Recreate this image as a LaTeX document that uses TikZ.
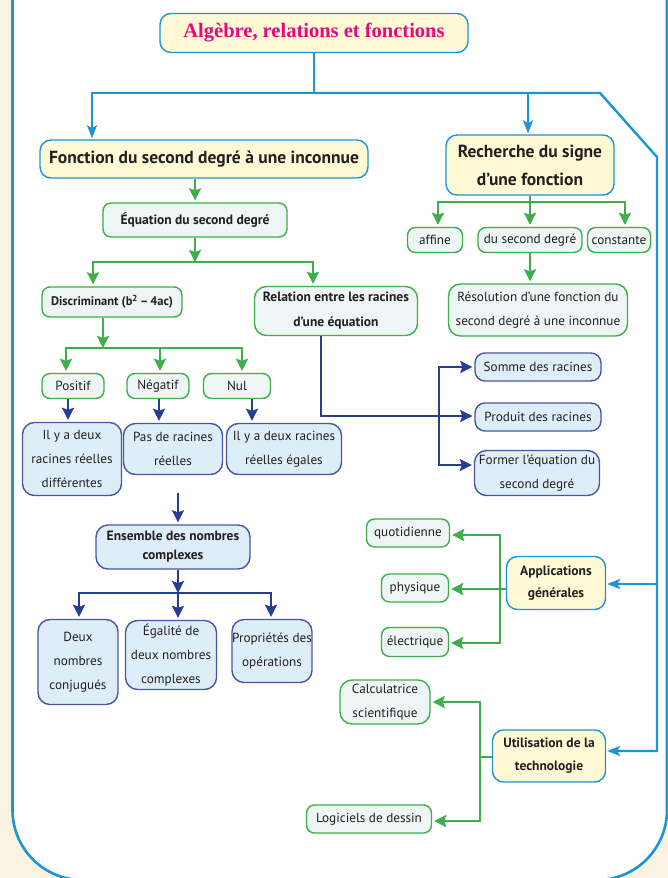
\documentclass[tikz,border=0pt]{standalone}
\usepackage{fontspec}
\setmainfont{PT Sans}
\newfontfamily\titlefam{Liberation Serif}
\usetikzlibrary{arrows.meta}
\definecolor{cream}{HTML}{FBF3E2}
\definecolor{cyanc}{HTML}{1B95D3}
\definecolor{greenc}{HTML}{3DAE4A}
\definecolor{navyc}{HTML}{243E90}
\definecolor{navyb}{HTML}{4A56A0}
\definecolor{yelfill}{HTML}{FFFAD5}
\definecolor{grnfill}{HTML}{EEF6F5}
\definecolor{blufill}{HTML}{DDEEF9}
\definecolor{txt}{HTML}{231F20}
\definecolor{magen}{HTML}{E4097E}
\begin{document}
\begin{tikzpicture}[x=1pt,y=-1pt,
  wh/.style 2 args={minimum width=#1pt, minimum height=#2pt},
  box/.style={inner sep=0pt, align=center, text=txt, line width=1.4pt},
  yel/.style={box, fill=yelfill, draw=cyanc, rounded corners=11pt},
  grn/.style={box, fill=grnfill, draw=greenc, rounded corners=8pt},
  blu/.style={box, fill=blufill, draw=navyb, rounded corners=12pt},
  fbig/.style={font=\bfseries\fontsize{17.5}{28}\selectfont},
  fmid/.style={font=\bfseries\fontsize{13.5}{25}\selectfont},
  freg/.style={font=\fontsize{13.2}{24}\selectfont},
  cy/.style={draw=cyanc, line width=2.4pt},
  cyarr/.style={cy, -{Stealth[length=13pt,width=10pt,inset=3pt]}, shorten >=1pt},
  gr/.style={draw=greenc, line width=2.4pt},
  grarr/.style={gr, -{Stealth[length=12pt,width=12pt,inset=2pt]}, shorten >=2pt},
  nv/.style={draw=navyc, line width=2.2pt},
  nvarr/.style={nv, -{Stealth[length=12pt,width=12pt,inset=2pt]}, shorten >=2pt},
]
\useasboundingbox (0,0) rectangle (668,878);
\clip (0,0) rectangle (668,878);
\fill[cream] (0,0) rectangle (668,878);
\draw[cy, line width=2.6pt, fill=white, rounded corners=70pt] (12.5,-40) -- (12.5,880) -- (667,880) -- (667,-40);

% nodes
\node[yel, wh={308}{39}, font=\titlefam\bfseries\fontsize{20.5}{24}\selectfont, text=magen] (title) at (314,33) {Algèbre, relations et fonctions};
\node[yel, wh={328}{38}, fbig] (fonction) at (204,159) {Fonction du second degré à une inconnue};
\node[yel, wh={168}{60}, fbig] (recherche) at (530,165) {Recherche du signe\\d’une fonction};
\node[grn, wh={184}{34}, fmid] (equation) at (195,220) {Équation du second degré};
\node[grn, wh={140}{30}, font=\bfseries\fontsize{12.5}{24}\selectfont] (discr) at (112,302) {Discriminant (b\textsuperscript{2}\,–\,4ac)};
\node[grn, wh={163}{49}, fmid, rounded corners=12pt] (relation) at (336,311) {Relation entre les racines\\d’une équation};
\node[grn, wh={62}{25}, freg] (positif) at (73,386) {Positif};
\node[grn, wh={62}{25}, freg] (negatif) at (158,386) {Négatif};
\node[grn, wh={67}{25}, freg] (nul) at (237,386) {Nul};
\node[blu, wh={99}{73}, freg] (r1) at (72,459) {Il y a deux\\racines réelles\\différentes};
\node[blu, wh={99}{51}, freg] (r2) at (173,449) {Pas de racines\\réelles};
\node[blu, wh={115}{51}, freg] (r3) at (284,449) {Il y a deux racines\\réelles égales};
\node[blu, wh={154}{44}, font=\bfseries\fontsize{13.5}{19}\selectfont] (ensemble) at (173,547) {Ensemble des nombres\\complexes};
\node[blu, wh={80}{85}, freg] (conj) at (78,662) {Deux\\nombres\\conjugués};
\node[blu, wh={91}{69}, freg] (egal) at (171,655) {Égalité de\\deux nombres\\complexes};
\node[blu, wh={80}{63}, freg] (prop) at (272,651) {Propriétés des\\opérations};
\node[grn, wh={55}{25}, freg] (affine) at (435,240) {affine};
\node[grn, wh={104}{25}, freg] (dsd) at (530,240) {du second degré};
\node[grn, wh={63}{25}, freg] (const) at (619,240) {constante};
\node[grn, wh={179}{52}, freg, rounded corners=12pt] (resol) at (538,310) {Résolution d’une fonction du\\second degré à une inconnue};
\node[blu, wh={126}{28}, freg, rounded corners=10pt] (somme) at (538,367) {Somme des racines};
\node[blu, wh={126}{28}, freg, rounded corners=10pt] (produit) at (538,417) {Produit des racines};
\node[blu, wh={125}{45}, freg] (former) at (537,473) {Former l’équation du\\second degré};
\node[grn, wh={83}{28}, freg] (quot) at (408,533) {quotidienne};
\node[grn, wh={67}{28}, freg] (phys) at (415,588) {physique};
\node[grn, wh={67}{29}, freg] (elec) at (415,642) {électrique};
\node[yel, wh={99}{53}, font=\bfseries\fontsize{13.5}{22}\selectfont] (appl) at (556,583) {Applications\\générales};
\node[grn, wh={90}{44}, freg, rounded corners=12pt] (calc) at (385,702) {Calculatrice\\scientifique};
\node[yel, wh={113}{52}, font=\bfseries\fontsize{13.5}{23}\selectfont] (util) at (549,756) {Utilisation de la\\technologie};
\node[grn, wh={125}{28}, freg] (logi) at (369,819) {Logiciels de dessin};

% cyan connectors
\coordinate (cJ) at (315,93);
\coordinate (cL) at (92,93);
\coordinate (cR) at (528,93);
\coordinate (cD1) at (600,93);
\coordinate (cD2) at (657,157);
\coordinate (cApp) at (657,584);
\coordinate (cUt) at (657,751);
\draw[cy] (title.south) -- (title.south |- cJ);
\draw[cyarr] (cJ) -- (cL) -- (cL |- fonction.north);
\draw[cyarr] (cJ) -- (cD1) -- (cD2) -- (cUt) -- (cUt -| util.east);
\draw[cyarr] (cR) -- (cR |- recherche.north);
\draw[cyarr] (cApp) -- (cApp -| appl.east);

% green connectors
\draw[grarr] (equation.north |- fonction.south) -- (equation.north);
\coordinate (gE) at (195,262);
\coordinate (gEL) at (93,262);
\coordinate (gER) at (313,262);
\draw[gr] (gEL) -- (gER);
\draw[grarr] (gE) -- (gEL) -- (gEL |- discr.north);
\draw[grarr] (gE) -- (gER) -- (gER |- relation.north);
\draw[grarr, shorten >=0pt] (equation.south) -- (gE);
\coordinate (gD) at (103,348);
\coordinate (gDL) at (66,348);
\coordinate (gDM) at (160,348);
\coordinate (gDR) at (242,348);
\draw[grarr] (gD) -- (gDL) -- (gDL |- positif.north);
\draw[grarr] (gD) -- (gDR) -- (gDR |- nul.north);
\draw[grarr] (gDM) -- (gDM |- negatif.north);
\draw[grarr, shorten >=0pt] (gD |- discr.south) -- (gD);
\coordinate (gR) at (530,202);
\coordinate (gRL) at (438,202);
\coordinate (gRR) at (625,202);
\draw[grarr] (recherche.south) -- (dsd.north);
\draw[grarr] (gR) -- (gRL) -- (gRL |- affine.north);
\draw[grarr] (gR) -- (gRR) -- (gRR |- const.north);
\draw[grarr] (dsd.south) -- (dsd.south |- resol.north);
\coordinate (gA) at (500,589);
\coordinate (gAT) at (500,535);
\coordinate (gAB) at (500,643);
\draw[grarr] (gA -| appl.west) -- (gA -| phys.east);
\draw[grarr] (gA) -- (gAT) -- (gAT -| quot.east);
\draw[grarr] (gA) -- (gAB) -- (gAB -| elec.east);
\coordinate (gU) at (480,757);
\coordinate (gUT) at (480,702);
\coordinate (gUB) at (480,821);
\draw[gr] (gU -| util.west) -- (gU);
\draw[grarr] (gU) -- (gUT) -- (gUT -| calc.east);
\draw[grarr] (gU) -- (gUB) -- (gUB -| logi.east);

% navy connectors
\coordinate (nP) at (68,0);
\coordinate (nN) at (159,0);
\coordinate (nU) at (252,0);
\draw[nvarr] (nP |- positif.south) -- (nP |- r1.north);
\draw[nvarr] (nN |- negatif.south) -- (nN |- r2.north);
\draw[nvarr] (nU |- nul.south) -- (nU |- r3.north);
\coordinate (nE) at (178,493);
\draw[nvarr] (nE) -- (nE |- ensemble.north);
\coordinate (nB) at (178,593);
\coordinate (nBL) at (79,593);
\coordinate (nBR) at (271,593);
\draw[nvarr] (nB) -- (nBL) -- (nBL |- conj.north);
\draw[nvarr] (nB) -- (nBR) -- (nBR |- prop.north);
\draw[nvarr] (nB) -- (nB |- egal.north);
\draw[nvarr, shorten >=0pt] (nB |- ensemble.south) -- (nB);
\coordinate (nR) at (321,416);
\coordinate (nV) at (439,416);
\coordinate (nVT) at (439,367);
\coordinate (nVB) at (439,465);
\draw[nvarr] (nR |- relation.south) -- (nR) -- (nR -| produit.west);
\draw[nvarr] (nV) -- (nVT) -- (nVT -| somme.west);
\draw[nvarr] (nV) -- (nVB) -- (nVB -| former.west);
\end{tikzpicture}
\end{document}
